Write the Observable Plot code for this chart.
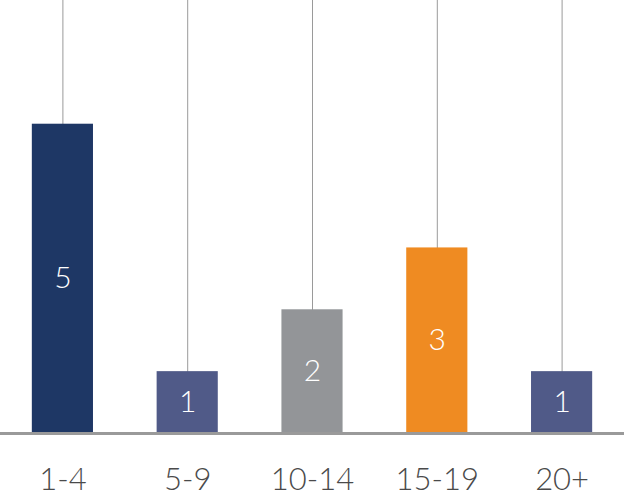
<!DOCTYPE html>
<html>
<head>
<meta charset="utf-8">
<script src="https://cdn.jsdelivr.net/npm/d3@7"></script>
<script src="https://cdn.jsdelivr.net/npm/@observablehq/plot@0.6"></script>
<style>
  html, body { margin: 0; padding: 0; background: #fff; }
  #chart svg { display: block; }
</style>
</head>
<body>
<div id="chart"></div>
<script>
const categories = ["1-4", "5-9", "10-14", "15-19", "20+"];
const values = [5, 1, 2, 3, 1];
const colors = ["#1e3765", "#505a88", "#939598", "#ef8b22", "#505a88"];

const data = categories.map((c, i) => ({category: c, value: values[i], color: colors[i]}));

const chart = Plot.plot({
  width: 624,
  height: 499,
  marginTop: 0,
  marginRight: 0,
  marginLeft: 0,
  marginBottom: 66,
  style: {fontFamily: "Lato, 'Open Sans', sans-serif", background: "#fff"},
  x: {domain: categories, paddingInner: 0.51, paddingOuter: 0.255, round: false, label: null},
  y: {domain: [0, 7], axis: null},
  marks: [
    Plot.ruleX(categories, {x: d => d, y1: 0, y2: 7, stroke: "#9a9a9a", strokeWidth: 1}),
    Plot.barY(data, {x: "category", y: "value", fill: "color"}),
    Plot.text(data, {x: "category", y: d => d.value / 2, text: d => String(d.value), fill: "#ffffff", fontSize: 30, fontWeight: 300}),
    Plot.ruleY([0], {stroke: "#9a9a9a", strokeWidth: 3}),
    Plot.axisX({tickSize: 0, tickPadding: 34, fontSize: 31, fontWeight: 300, color: "#4a4a4a", label: null})
  ]
});
document.getElementById("chart").appendChild(chart);
</script>
</body>
</html>
